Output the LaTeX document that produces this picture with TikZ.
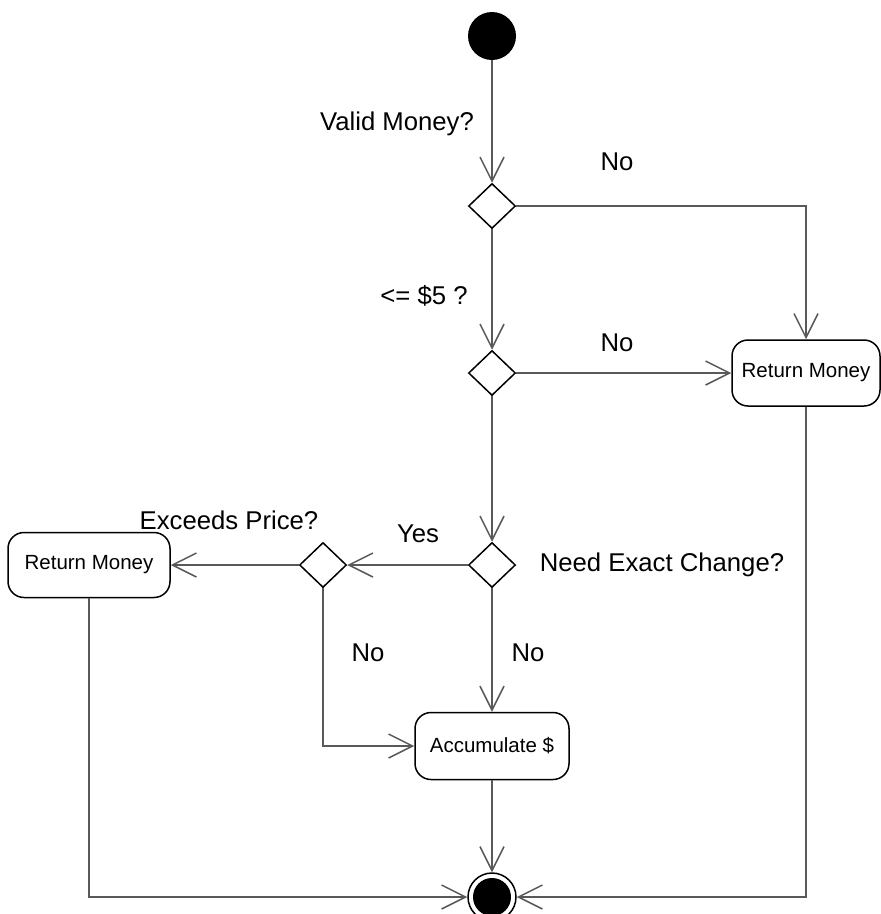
\documentclass[tikz,border=0pt]{standalone}
\usepackage{fontspec}
\setmainfont{Liberation Sans}
\usetikzlibrary{arrows.meta,shapes.geometric}
\definecolor{linegray}{rgb}{0.35, 0.35, 0.35}

\begin{document}
\begin{tikzpicture}[
    x=1pt, y=-1pt,
    >={Straight Barb[length=24pt, width=24pt, line width=1.5pt]},
    action/.style={
        draw,
        line width=1.5pt,
        rounded corners=16pt,
        minimum width=152pt,
        minimum height=65pt,
        font=\fontsize{20.5}{24}\selectfont,
    },
    choice/.style={
        draw,
        line width=1.5pt,
        diamond,
        inner sep=0pt,
        minimum width=47pt,
        minimum height=45pt,
    },
    flow/.style={
        draw=linegray,
        line width=1.8pt
    },
    guard/.style={
        font=\fontsize{25.7}{30}\selectfont
    }
]
\useasboundingbox (0,0) rectangle (881,914);

% =====================
% NODI
% =====================
\node[circle, fill=black, minimum size=48pt, inner sep=0pt] at (492,36) (start) {};
\node[choice] at (492,206) (D1) {};
\node[choice] at (492,373) (D2) {};
\node[choice] at (492,565) (D3) {};
\node[choice] at (323,565) (D4) {};
\node[action, minimum width=148pt, minimum height=66pt] at (806,373) (RM1) {Return Money};
\node[action, minimum width=162pt] at (89,565) (RM2) {Return Money};
\node[action, minimum width=154pt, minimum height=67pt] at (492,746) (ACC) {Accumulate \$};
\node[circle, draw, line width=1.5pt, minimum size=48pt, inner sep=0pt] at (492,897) (end) {};
\fill (end.center) circle (19pt);

% =====================
% TRANSIZIONI
% =====================
\draw[flow, ->] (start) -- (D1);
\draw[flow, ->] (D1.east) -| (RM1.north);
\draw[flow, ->] (D1) -- (D2);
\draw[flow, ->] (D2) -- (RM1);
\draw[flow, ->] (D2) -- (D3);
\draw[flow, ->] (D3) -- (D4);
\draw[flow, ->] (D4) -- (RM2);
\draw[flow, ->] (D4.south) |- (ACC.west);
\draw[flow, ->] (D3) -- (ACC);
\draw[flow, ->] (ACC) -- (end);
\draw[flow, ->] (RM2.south) |- (end.west);
\draw[flow, ->] (RM1.south) |- (end.east);

% etichette
\node[guard] at (397,124) (L1) {Valid Money?};
\node[guard] at (617,162) (L2) {No};
\node[guard] at (424,296) (L3) {<= \$5 ?};
\node[guard] at (617,343) (L4) {No};
\node[guard] at (229,520) (L5) {Exceeds Price?};
\node[guard] at (418,534) (L6) {Yes};
\node[guard] at (662,565) (L7) {Need Exact Change?};
\node[guard] at (368,653) (L8) {No};
\node[guard] at (528,653) (L9) {No};

\end{tikzpicture}
\end{document}
